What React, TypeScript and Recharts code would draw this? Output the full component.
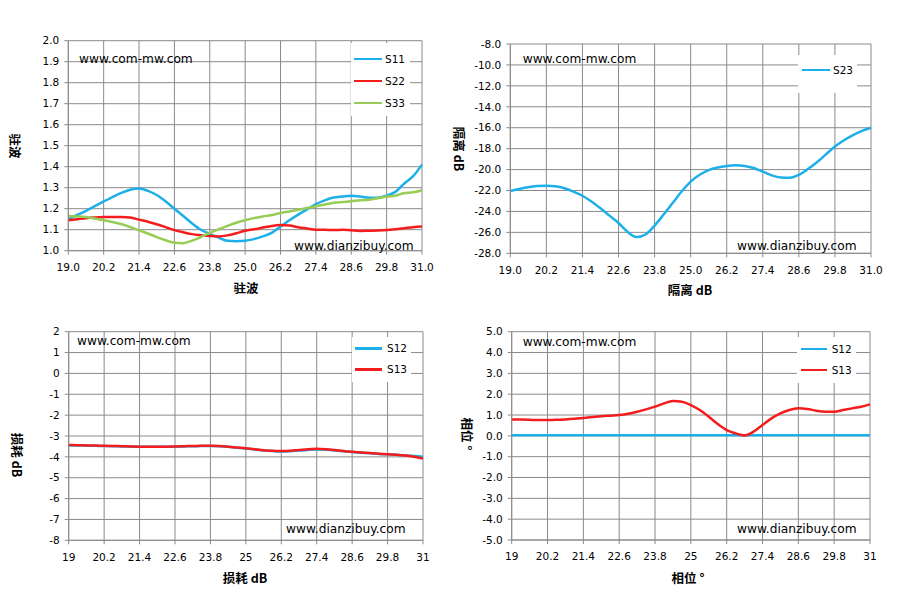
import React from 'react';
import { LineChart, Line, XAxis, YAxis, CartesianGrid, Legend } from 'recharts';

const freq = [19.0, 19.3, 19.6, 19.9, 20.2, 20.5, 20.8, 21.1, 21.4, 21.7, 22.0, 22.3, 22.6, 22.9, 23.2, 23.5, 23.8, 24.1, 24.4, 24.7, 25.0, 25.3, 25.6, 25.9, 26.2, 26.5, 26.8, 27.1, 27.4, 27.7, 28.0, 28.3, 28.6, 28.9, 29.2, 29.5, 29.8, 30.1, 30.4, 30.7, 31.0];

const vswrS11 = [1.150, 1.170, 1.190, 1.212, 1.235, 1.255, 1.275, 1.290, 1.296, 1.285, 1.265, 1.235, 1.200, 1.165, 1.130, 1.100, 1.080, 1.062, 1.047, 1.045, 1.047, 1.055, 1.068, 1.085, 1.115, 1.145, 1.172, 1.197, 1.222, 1.240, 1.253, 1.258, 1.262, 1.258, 1.252, 1.252, 1.262, 1.280, 1.320, 1.355, 1.410];
const vswrS22 = [1.145, 1.150, 1.155, 1.158, 1.160, 1.161, 1.161, 1.158, 1.148, 1.138, 1.126, 1.112, 1.098, 1.088, 1.079, 1.074, 1.070, 1.068, 1.073, 1.083, 1.095, 1.102, 1.110, 1.118, 1.122, 1.120, 1.112, 1.106, 1.100, 1.100, 1.098, 1.100, 1.097, 1.094, 1.095, 1.096, 1.098, 1.102, 1.107, 1.112, 1.115];
const vswrS33 = [1.165, 1.163, 1.160, 1.153, 1.145, 1.137, 1.127, 1.113, 1.097, 1.082, 1.065, 1.050, 1.038, 1.036, 1.048, 1.065, 1.085, 1.102, 1.118, 1.133, 1.145, 1.155, 1.163, 1.170, 1.180, 1.187, 1.195, 1.203, 1.212, 1.220, 1.228, 1.232, 1.235, 1.240, 1.243, 1.250, 1.258, 1.262, 1.275, 1.278, 1.288];

const isoS23 = [-22.05, -21.85, -21.68, -21.58, -21.55, -21.6, -21.78, -22.1, -22.5, -23.05, -23.7, -24.4, -25.1, -25.95, -26.45, -26.2, -25.35, -24.3, -23.2, -22.1, -21.15, -20.5, -20.05, -19.8, -19.65, -19.58, -19.65, -19.85, -20.2, -20.55, -20.75, -20.78, -20.5, -19.95, -19.3, -18.55, -17.8, -17.2, -16.7, -16.3, -16.0];

const lossS12 = [-3.46, -3.46, -3.46, -3.47, -3.48, -3.49, -3.50, -3.51, -3.52, -3.52, -3.52, -3.52, -3.51, -3.50, -3.49, -3.48, -3.48, -3.49, -3.52, -3.56, -3.60, -3.65, -3.69, -3.72, -3.74, -3.73, -3.70, -3.67, -3.65, -3.66, -3.69, -3.73, -3.77, -3.80, -3.83, -3.86, -3.88, -3.90, -3.93, -3.96, -3.99];
const lossS13 = [-3.43, -3.44, -3.45, -3.46, -3.47, -3.48, -3.49, -3.50, -3.51, -3.51, -3.51, -3.51, -3.50, -3.49, -3.48, -3.47, -3.47, -3.48, -3.51, -3.55, -3.59, -3.64, -3.68, -3.71, -3.72, -3.71, -3.67, -3.63, -3.61, -3.63, -3.67, -3.72, -3.76, -3.79, -3.82, -3.85, -3.87, -3.90, -3.94, -3.99, -4.08];

const phaseS12 = [0.03, 0.03, 0.03, 0.03, 0.03, 0.03, 0.03, 0.03, 0.03, 0.03, 0.03, 0.03, 0.03, 0.03, 0.03, 0.03, 0.03, 0.03, 0.03, 0.03, 0.03, 0.03, 0.03, 0.03, 0.03, 0.03, 0.03, 0.03, 0.03, 0.03, 0.03, 0.03, 0.03, 0.03, 0.03, 0.03, 0.03, 0.03, 0.03, 0.03, 0.03];
const phaseS13 = [0.79, 0.78, 0.77, 0.76, 0.76, 0.77, 0.79, 0.82, 0.86, 0.90, 0.94, 0.97, 1.00, 1.06, 1.16, 1.27, 1.40, 1.56, 1.67, 1.64, 1.48, 1.24, 0.92, 0.57, 0.28, 0.12, 0.02, 0.20, 0.52, 0.84, 1.08, 1.24, 1.32, 1.29, 1.21, 1.16, 1.16, 1.24, 1.32, 1.40, 1.51];

const xTicks = [19, 20.2, 21.4, 22.6, 23.8, 25, 26.2, 27.4, 28.6, 29.8, 31];
const vswrTicks = [1.0, 1.1, 1.2, 1.3, 1.4, 1.5, 1.6, 1.7, 1.8, 1.9, 2.0];
const isoTicks = [-28, -26, -24, -22, -20, -18, -16, -14, -12, -10, -8];
const lossTicks = [-8, -7, -6, -5, -4, -3, -2, -1, 0, 1, 2];
const phaseTicks = [-5, -4, -3, -2, -1, 0, 1, 2, 3, 4, 5];

const BLUE = '#1DB0E8';
const RED = '#F41C1C';
const GREEN = '#97CC55';
const GRID = '#8a8a8a';
const FONT = '"DejaVu Sans", Verdana, sans-serif';
const CJK = '"Noto Sans CJK SC", "DejaVu Sans", sans-serif';

type Series = { key: string; name: string; color: string; values: number[] };

type PanelProps = {
  left: number; top: number; width: number; height: number;
  margin: { top: number; right: number; bottom: number; left: number };
  yWidth: number;
  series: Series[];
  yDomain: [number, number];
  yTicks: number[];
  xFmt: (v: number) => string;
  yFmt: (v: number) => string;
  legendBox: { x: number; y: number; w: number; h: number; firstY: number; rowGap: number; lineX1: number; lineX2: number; textX: number };
  title: string;
  yTitlePos: [number, number];
  xTitlePos: [number, number];
  wm1: [number, number];
  wm2: [number, number];
};

function Panel(p: PanelProps) {
  const data = freq.map((f, i) => {
    const row: Record<string, number> = { f };
    p.series.forEach((s) => { row[s.key] = s.values[i]; });
    return row;
  });
  const lb = p.legendBox;
  const legendContent = (props: any) => {
    const payload = props.payload || [];
    return (
      <div style={{ position: 'relative', width: lb.w, height: lb.h, background: '#fff' }}>
        {payload.map((entry: any, i: number) => {
          const cy = lb.firstY + i * lb.rowGap - lb.y;
          return (
            <React.Fragment key={entry.value}>
              <div style={{ position: 'absolute', left: lb.lineX1 - lb.x, top: cy - 1.25, width: lb.lineX2 - lb.lineX1, height: 2.5, background: entry.color }} />
              <div style={{ position: 'absolute', left: lb.textX - lb.x, top: cy - 7, height: 14, lineHeight: '14px', fontFamily: FONT, fontSize: 10.5, color: '#000', whiteSpace: 'nowrap' }}>{entry.value}</div>
            </React.Fragment>
          );
        })}
      </div>
    );
  };
  const titleStyle: React.CSSProperties = { position: 'absolute', fontFamily: CJK, fontWeight: 700, fontSize: 12.5, color: '#000', whiteSpace: 'nowrap', lineHeight: '14px' };
  const wmStyle: React.CSSProperties = { position: 'absolute', fontFamily: FONT, fontSize: 12.2, color: '#000', whiteSpace: 'nowrap', lineHeight: '14px', transform: 'translateY(-50%)' };
  return (
    <div style={{ position: 'absolute', left: p.left, top: p.top, width: p.width, height: p.height }}>
      <LineChart width={p.width} height={p.height} data={data} margin={p.margin}>
        <CartesianGrid stroke={GRID} strokeWidth={1} />
        <XAxis
          type="number"
          dataKey="f"
          domain={[19, 31]}
          ticks={xTicks}
          interval={0}
          tickFormatter={p.xFmt}
          height={30}
          tickSize={4}
          tickMargin={9}
          stroke={GRID}
          tick={{ fill: '#000', fontSize: 10.5, fontFamily: FONT }}
        />
        <YAxis
          type="number"
          domain={p.yDomain}
          ticks={p.yTicks}
          interval={0}
          tickFormatter={p.yFmt}
          width={p.yWidth}
          tickSize={4}
          tickMargin={5}
          stroke={GRID}
          tick={{ fill: '#000', fontSize: 10.5, fontFamily: FONT }}
        />
        <Legend
          layout="vertical"
          align="center"
          verticalAlign="middle"
          content={legendContent}
          wrapperStyle={{ position: 'absolute', left: lb.x, top: lb.y, width: lb.w, height: lb.h, margin: 0, padding: 0 }}
        />
        {p.series.map((s) => (
          <Line
            key={s.key}
            type="monotone"
            dataKey={s.key}
            name={s.name}
            stroke={s.color}
            strokeWidth={2.5}
            dot={false}
            activeDot={false}
            isAnimationActive={false}
          />
        ))}
      </LineChart>
      <div style={{ ...wmStyle, left: p.wm1[0], top: p.wm1[1] }}>www.com-mw.com</div>
      <div style={{ ...wmStyle, left: p.wm2[0], top: p.wm2[1] }}>www.dianzibuy.com</div>
      <div style={{ ...titleStyle, left: p.xTitlePos[0], top: p.xTitlePos[1], transform: 'translate(-50%, -50%)' }}>{p.title}</div>
      <div style={{ ...titleStyle, left: p.yTitlePos[0], top: p.yTitlePos[1], transform: 'translate(-50%, -50%) rotate(90deg)' }}>{p.title}</div>
    </div>
  );
}

const fmt1 = (v: number) => v.toFixed(1);
const fmtPlain = (v: number) => String(v);

export default function App() {
  return (
    <div style={{ position: 'absolute', left: 0, top: 0, width: 897, height: 605, background: '#fff', overflow: 'hidden' }}>
      <Panel
        left={0} top={0} width={450} height={300}
        margin={{ top: 40.7, right: 28, bottom: 19.3, left: 0 }}
        yWidth={68.3}
        series={[
          { key: 's11', name: 'S11', color: BLUE, values: vswrS11 },
          { key: 's22', name: 'S22', color: RED, values: vswrS22 },
          { key: 's33', name: 'S33', color: GREEN, values: vswrS33 },
        ]}
        yDomain={[1, 2]} yTicks={vswrTicks} xFmt={fmt1} yFmt={fmt1}
        legendBox={{ x: 351, y: 43, w: 59, h: 73, firstY: 59, rowGap: 22, lineX1: 354, lineX2: 382, textX: 385 }}
        title="驻波"
        yTitlePos={[15, 146]} xTitlePos={[246, 288]}
        wm1={[79, 59]} wm2={[294, 246]}
      />
      <Panel
        left={450} top={0} width={447} height={300}
        margin={{ top: 44, right: 26, bottom: 16.7, left: 0 }}
        yWidth={60.3}
        series={[{ key: 's23', name: 'S23', color: BLUE, values: isoS23 }]}
        yDomain={[-28, -8]} yTicks={isoTicks} xFmt={fmt1} yFmt={fmt1}
        legendBox={{ x: 348, y: 55, w: 59, h: 38, firstY: 70, rowGap: 22, lineX1: 352, lineX2: 380, textX: 383 }}
        title="隔离 dB"
        yTitlePos={[9, 148.5]} xTitlePos={[240, 290]}
        wm1={[72.7, 59]} wm2={[287, 246]}
      />
      <Panel
        left={0} top={300} width={450} height={305}
        margin={{ top: 31.7, right: 27, bottom: 34.7, left: 0 }}
        yWidth={68.7}
        series={[
          { key: 's12', name: 'S12', color: BLUE, values: lossS12 },
          { key: 's13', name: 'S13', color: RED, values: lossS13 },
        ]}
        yDomain={[-8, 2]} yTicks={lossTicks} xFmt={fmtPlain} yFmt={fmtPlain}
        legendBox={{ x: 351.7, y: 37, w: 59, h: 45, firstY: 48.3, rowGap: 21, lineX1: 355, lineX2: 382, textX: 387 }}
        title="损耗 dB"
        yTitlePos={[17, 155]} xTitlePos={[245, 278]}
        wm1={[77, 40.7]} wm2={[286, 229]}
      />
      <Panel
        left={450} top={300} width={447} height={305}
        margin={{ top: 31.7, right: 27, bottom: 35, left: 0 }}
        yWidth={61.7}
        series={[
          { key: 'p12', name: 'S12', color: BLUE, values: phaseS12 },
          { key: 'p13', name: 'S13', color: RED, values: phaseS13 },
        ]}
        yDomain={[-5, 5]} yTicks={phaseTicks} xFmt={fmtPlain} yFmt={fmt1}
        legendBox={{ x: 346.7, y: 37, w: 59, h: 46, firstY: 49, rowGap: 21, lineX1: 350.7, lineX2: 377, textX: 381.7 }}
        title="相位 °"
        yTitlePos={[17, 133.5]} xTitlePos={[238, 278]}
        wm1={[72.7, 41.7]} wm2={[287, 229]}
      />
    </div>
  );
}
